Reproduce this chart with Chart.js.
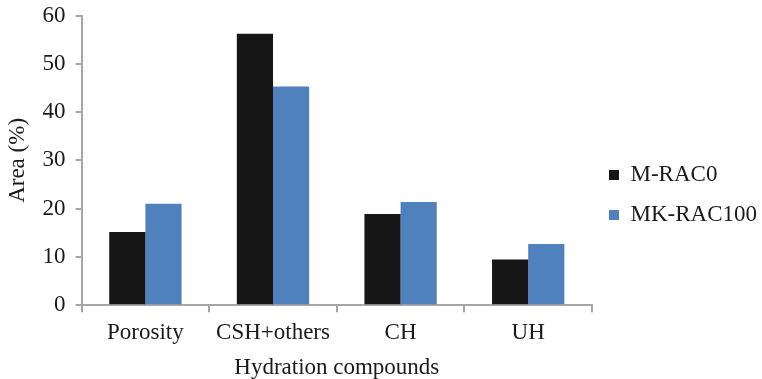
<!DOCTYPE html>
<html>
<head>
<meta charset="utf-8">
<script src="https://cdn.jsdelivr.net/npm/chart.js@4.4.1/dist/chart.umd.min.js"></script>
<style>
html,body{margin:0;padding:0;background:#fff;}
#wrap{width:762px;height:379px;position:relative;}
</style>
</head>
<body>
<div id="wrap"><canvas id="c" width="762" height="379"></canvas></div>
<script>
const categories = ["Porosity", "CSH+others", "CH", "UH"];
const seriesNames = ["M-RAC0", "MK-RAC100"];
const mRac0 = [15.2, 56.2, 18.9, 9.5];
const mkRac100 = [21.0, 45.3, 21.4, 12.7];
const yTicks = [0, 10, 20, 30, 40, 50, 60];
const xTitle = "Hydration compounds";
const yTitle = "Area (%)";

const FONT = "'Liberation Serif', 'Times New Roman', serif";
const FS = 23;
const TXT = "#1a1a1a";
const AXIS = "#a6a6a6";

new Chart(document.getElementById('c'), {
  type: 'bar',
  data: {
    labels: categories,
    datasets: [
      {label: seriesNames[0], data: mRac0, backgroundColor: '#161616', borderWidth: 0,
       categoryPercentage: 0.567, barPercentage: 1.0},
      {label: seriesNames[1], data: mkRac100, backgroundColor: '#4f81bd', borderWidth: 0,
       categoryPercentage: 0.567, barPercentage: 1.0}
    ]
  },
  options: {
    responsive: false,
    animation: false,
    layout: {padding: {left: 0, right: -5, top: 2, bottom: -4.5}},
    plugins: {
      tooltip: {enabled: false},
      legend: {
        position: 'right',
        title: {display: true, text: ' ', font: {family: FONT, size: 3}, padding: {top: 1, bottom: 0}},
        labels: {
          boxWidth: 10, boxHeight: 10, padding: 17, color: TXT,
          font: {family: FONT, size: FS}
        }
      }
    },
    scales: {
      x: {
        grid: {drawOnChartArea: false, drawTicks: true, tickLength: 7, color: AXIS, lineWidth: 2, offset: true},
        border: {color: AXIS, width: 2},
        ticks: {color: TXT, font: {family: FONT, size: FS}, padding: 7, maxRotation: 0},
        title: {display: true, text: xTitle, color: TXT, font: {family: FONT, size: FS}, padding: {top: 0, bottom: 2}}
      },
      y: {
        min: 0, max: 60,
        afterBuildTicks: (s) => { s.ticks = yTicks.map(v => ({value: v})); },
        afterFit: (s) => { s.paddingTop = 15.5; },
        grid: {drawOnChartArea: false, drawTicks: true, tickLength: 6, color: AXIS, lineWidth: 2},
        border: {color: AXIS, width: 2},
        ticks: {color: TXT, font: {family: FONT, size: FS}, padding: 10},
        title: {display: true, text: yTitle, color: TXT, font: {family: FONT, size: FS}, padding: {top: 4, bottom: 1}}
      }
    }
  }
});
</script>
</body>
</html>
